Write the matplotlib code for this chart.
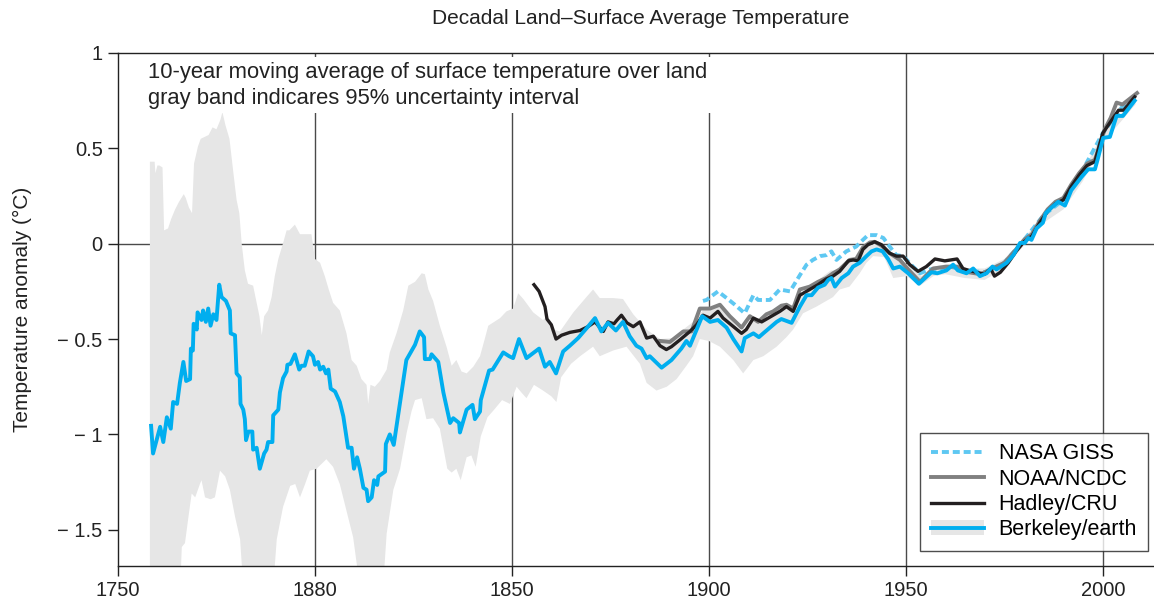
import numpy as np
import matplotlib
matplotlib.use("Agg")
import matplotlib.pyplot as plt
from matplotlib.patches import Patch
from matplotlib.lines import Line2D

plt.rcParams['font.family'] = ['Liberation Sans', 'DejaVu Sans']

# Berkeley Earth 10-year moving average
berk_years = [1758.4, 1758.9, 1760.7, 1761.5, 1762.4, 1763.4, 1764.0, 1765.0, 1765.7, 1766.6,
              1767.3, 1768.3, 1768.5, 1769.0, 1769.2, 1770.0, 1770.2, 1771.2, 1771.6, 1772.3,
              1772.9, 1773.5, 1774.2, 1775.0, 1775.7, 1776.3, 1777.4, 1778.4, 1778.6, 1779.7,
              1780.1, 1780.9, 1781.1, 1781.8, 1782.2, 1782.5, 1783.1, 1784.1, 1784.3, 1785.2,
              1786.0, 1787.1, 1787.7, 1788.1, 1789.2, 1789.4, 1790.7, 1791.1, 1791.9, 1792.8,
              1793.0, 1793.8, 1794.9, 1796.0, 1796.6, 1797.4, 1798.4, 1799.5, 1800.0, 1800.8,
              1801.3, 1802.1, 1802.8, 1803.4, 1804.0, 1805.1, 1806.3, 1807.2, 1808.4, 1809.3,
              1809.9, 1810.7, 1811.4, 1812.3, 1813.1, 1813.5, 1814.4, 1815.0, 1815.8, 1816.1,
              1817.8, 1818.0, 1819.0, 1820.0, 1823.2, 1825.4, 1826.6, 1827.7, 1827.9, 1829.2,
              1829.6, 1831.3, 1832.6, 1834.3, 1835.1, 1836.6, 1836.8, 1838.5, 1840.0, 1840.6,
              1841.9, 1842.1, 1844.2, 1845.1, 1847.8, 1849.3, 1850.3, 1851.8, 1853.7, 1856.9,
              1858.4, 1859.6, 1861.2, 1863.0, 1864.7, 1866.8, 1869.3, 1871.1, 1872.7, 1874.4,
              1876.4, 1878.2, 1879.9, 1881.6, 1882.9, 1884.2, 1885.0, 1888.0, 1890.5, 1893.0,
              1894.3, 1895.2, 1896.9, 1898.3, 1900.3, 1902.3, 1904.5, 1906.2, 1908.3, 1909.1,
              1911.3, 1912.7, 1913.8, 1917.2, 1918.4, 1921.0, 1923.1, 1924.8, 1926.1, 1927.7,
              1929.4, 1930.3, 1931.1, 1932.0, 1933.7, 1935.4, 1936.6, 1938.3, 1940.0, 1941.3,
              1942.6, 1944.1, 1945.5, 1946.8, 1948.5, 1950.6, 1953.3, 1956.5, 1958.0, 1960.3,
              1962.0, 1963.2, 1965.4, 1967.1, 1968.8, 1970.5, 1972.0, 1973.0, 1975.6, 1977.3,
              1979.0, 1980.2, 1981.1, 1981.9, 1983.2, 1984.8, 1985.5, 1987.0, 1988.7, 1990.4,
              1992.0, 1994.6, 1996.3, 1998.0, 1998.8, 2000.1, 2001.8, 2003.5, 2005.1, 2008.1]
berk_vals = [-0.955, -1.10, -0.96, -1.04, -0.91, -0.97, -0.83, -0.84, -0.73, -0.62,
             -0.72, -0.71, -0.55, -0.56, -0.42, -0.45, -0.36, -0.40, -0.35, -0.41,
             -0.34, -0.43, -0.37, -0.40, -0.215, -0.28, -0.30, -0.35, -0.47, -0.48,
             -0.68, -0.70, -0.84, -0.87, -0.92, -1.03, -0.985, -0.985, -1.08, -1.07,
             -1.18, -1.10, -1.08, -1.04, -1.04, -0.90, -0.87, -0.78, -0.705, -0.67,
             -0.635, -0.63, -0.58, -0.66, -0.64, -0.64, -0.565, -0.59, -0.635, -0.62,
             -0.66, -0.645, -0.68, -0.66, -0.76, -0.775, -0.83, -0.905, -1.07, -1.07,
             -1.18, -1.12, -1.18, -1.28, -1.29, -1.35, -1.33, -1.24, -1.265, -1.22,
             -1.195, -1.05, -1.00, -1.055, -0.61, -0.53, -0.46, -0.49, -0.605, -0.605,
             -0.58, -0.62, -0.78, -0.94, -0.915, -0.94, -0.99, -0.87, -0.845, -0.92,
             -0.88, -0.82, -0.665, -0.66, -0.57, -0.59, -0.60, -0.50, -0.60, -0.55,
             -0.645, -0.62, -0.68, -0.565, -0.535, -0.495, -0.435, -0.39, -0.46, -0.415,
             -0.455, -0.41, -0.485, -0.535, -0.55, -0.60, -0.59, -0.65, -0.61, -0.55,
             -0.51, -0.535, -0.45, -0.38, -0.41, -0.40, -0.44, -0.50, -0.565, -0.495,
             -0.47, -0.49, -0.47, -0.41, -0.395, -0.415, -0.33, -0.27, -0.27, -0.23,
             -0.215, -0.19, -0.18, -0.225, -0.18, -0.155, -0.12, -0.10, -0.065, -0.04,
             -0.03, -0.04, -0.08, -0.13, -0.12, -0.155, -0.21, -0.15, -0.155, -0.14,
             -0.11, -0.14, -0.155, -0.13, -0.17, -0.155, -0.12, -0.135, -0.10, -0.06,
             0.004, 0.004, 0.03, 0.02, 0.08, 0.11, 0.16, 0.19, 0.22, 0.20,
             0.28, 0.35, 0.39, 0.39, 0.45, 0.555, 0.56, 0.67, 0.67, 0.75]

# 95% uncertainty band, upper edge
band_hi_years = [1758.1, 1759.3, 1759.5, 1760.0, 1760.5, 1761.3, 1761.7, 1762.7, 1763.5, 1764.5,
                 1765.5, 1766.7, 1767.2, 1768.0, 1768.8, 1769.3, 1770.3, 1771.0, 1772.0, 1773.0,
                 1774.0, 1775.0, 1776.0, 1776.5, 1777.3, 1778.3, 1779.3, 1780.1, 1780.8, 1781.4,
                 1782.2, 1783.0, 1784.3, 1785.0, 1785.9, 1786.5, 1787.1, 1788.1, 1789.0, 1789.8,
                 1790.7, 1792.0, 1792.8, 1793.5, 1794.9, 1796.2, 1799.1, 1800.0, 1801.3, 1802.5,
                 1803.5, 1804.6, 1806.3, 1808.0, 1809.3, 1810.6, 1811.8, 1813.1, 1813.5, 1814.1,
                 1815.2, 1816.5, 1818.2, 1819.0, 1820.7, 1822.4, 1823.7, 1825.4, 1827.1, 1827.9,
                 1828.8, 1830.0, 1831.7, 1833.4, 1834.7, 1835.9, 1837.2, 1838.5, 1840.2, 1841.9,
                 1843.1, 1844.0, 1847.0, 1848.6, 1850.3, 1851.6, 1852.9, 1855.4, 1857.9, 1859.0,
                 1860.5, 1862.2, 1865.6, 1868.9, 1870.6, 1872.3, 1875.7, 1878.2, 1880.8, 1884.2,
                 1887.6, 1891.0, 1893.5, 1896.0, 1898.5, 1900.3, 1902.5, 1905.0, 1908.3, 1911.0,
                 1913.5, 1917.0, 1920.0, 1921.5, 1923.0, 1926.0, 1929.0, 1931.0, 1933.0, 1936.0,
                 1938.0, 1940.0, 1942.0, 1944.0, 1946.0, 1948.5, 1951.0, 1954.0, 1957.0, 1960.0,
                 1965.0, 1970.0, 1975.0, 1980.0, 1985.0, 1990.0, 1995.0, 2000.0, 2005.0, 2008.3]
band_hi = [0.43, 0.43, 0.37, 0.41, 0.41, 0.40, 0.07, 0.08, 0.13, 0.18,
           0.22, 0.26, 0.24, 0.19, 0.16, 0.42, 0.51, 0.55, 0.56, 0.57,
           0.61, 0.60, 0.65, 0.69, 0.62, 0.55, 0.37, 0.23, 0.16, 0.0,
           -0.14, -0.21, -0.22, -0.29, -0.38, -0.48, -0.38, -0.35, -0.28, -0.17,
           -0.08, 0.01, 0.07, 0.07, 0.10, 0.05, 0.05, -0.08, -0.10, -0.17,
           -0.24, -0.31, -0.35, -0.47, -0.61, -0.64, -0.71, -0.74, -0.84, -0.74,
           -0.75, -0.72, -0.66, -0.57, -0.47, -0.35, -0.22, -0.20, -0.155, -0.16,
           -0.24, -0.30, -0.43, -0.54, -0.64, -0.61, -0.67, -0.68, -0.645, -0.59,
           -0.50, -0.43, -0.39, -0.355, -0.34, -0.26, -0.29, -0.36, -0.40, -0.38,
           -0.45, -0.46, -0.36, -0.28, -0.24, -0.285, -0.285, -0.29, -0.37, -0.45,
           -0.50, -0.495, -0.45, -0.41, -0.35, -0.34, -0.33, -0.38, -0.47, -0.40,
           -0.40, -0.35, -0.33, -0.35, -0.27, -0.22, -0.17, -0.14, -0.14, -0.08,
           -0.06, -0.02, 0.0, -0.01, -0.06, -0.08, -0.12, -0.17, -0.12, -0.11,
           -0.13, -0.13, -0.08, 0.03, 0.15, 0.23, 0.38, 0.58, 0.69, 0.77]

# 95% uncertainty band, lower edge
band_lo_years = [1758.1, 1765.8, 1766.2, 1767.0, 1767.9, 1768.7, 1769.6, 1770.8, 1771.2, 1772.1,
                 1773.5, 1774.6, 1775.9, 1777.2, 1778.4, 1779.7, 1781.0, 1781.8, 1789.4, 1790.3,
                 1791.9, 1793.7, 1795.0, 1796.2, 1797.5, 1798.7, 1800.4, 1802.9, 1804.6, 1806.3,
                 1808.0, 1809.7, 1811.4, 1817.3, 1818.2, 1819.9, 1821.6, 1823.3, 1824.5, 1825.4,
                 1827.1, 1828.3, 1830.0, 1831.7, 1833.6, 1834.7, 1835.9, 1837.0, 1838.5, 1839.7,
                 1840.8, 1842.1, 1843.8, 1845.5, 1847.5, 1849.5, 1851.2, 1852.4, 1853.7, 1855.6,
                 1857.9, 1860.0, 1861.3, 1862.5, 1865.0, 1867.3, 1870.6, 1872.3, 1875.7, 1879.1,
                 1882.5, 1884.2, 1886.7, 1889.3, 1891.8, 1894.3, 1896.0, 1897.7, 1900.0, 1902.8,
                 1906.2, 1908.7, 1911.3, 1913.8, 1917.2, 1919.7, 1921.4, 1923.9, 1927.3, 1931.5,
                 1933.2, 1935.7, 1938.3, 1940.0, 1941.7, 1944.5, 1946.8, 1950.2, 1953.6, 1957.0,
                 1960.0, 1965.0, 1970.0, 1975.0, 1980.0, 1985.0, 1990.0, 1995.0, 2000.0, 2005.0,
                 2008.3]
band_lo = [-1.8, -1.8, -1.59, -1.57, -1.43, -1.31, -1.33, -1.26, -1.24, -1.33,
           -1.34, -1.33, -1.19, -1.22, -1.29, -1.43, -1.55, -1.8, -1.8, -1.55,
           -1.38, -1.27, -1.26, -1.33, -1.26, -1.19, -1.18, -1.13, -1.17, -1.26,
           -1.40, -1.54, -1.8, -1.8, -1.52, -1.29, -1.18, -0.99, -0.88, -0.82,
           -0.81, -0.92, -0.915, -0.97, -1.18, -1.20, -1.18, -1.24, -1.12, -1.11,
           -1.17, -1.01, -0.91, -0.87, -0.82, -0.84, -0.75, -0.78, -0.81, -0.74,
           -0.77, -0.80, -0.83, -0.70, -0.63, -0.59, -0.54, -0.59, -0.56, -0.54,
           -0.63, -0.73, -0.77, -0.75, -0.71, -0.64, -0.59, -0.50, -0.51, -0.54,
           -0.61, -0.68, -0.61, -0.59, -0.54, -0.49, -0.45, -0.365, -0.33, -0.28,
           -0.24, -0.225, -0.155, -0.10, -0.065, -0.07, -0.18, -0.17, -0.22, -0.17,
           -0.16, -0.18, -0.19, -0.13, -0.01, 0.11, 0.18, 0.33, 0.53, 0.65,
           0.73]

# Hadley/CRU
had_years = [1855.6, 1856.9, 1858.4, 1858.9, 1860.0, 1861.2, 1862.6, 1864.7, 1867.3, 1869.3,
             1871.1, 1873.2, 1874.4, 1875.9, 1876.7, 1877.8, 1879.2, 1880.8, 1882.5, 1884.2,
             1885.9, 1887.6, 1889.2, 1890.5, 1892.6, 1895.2, 1896.9, 1898.5, 1900.3, 1902.3,
             1903.6, 1908.3, 1909.5, 1911.3, 1913.4, 1915.9, 1918.0, 1919.7, 1921.4, 1923.1,
             1925.6, 1927.7, 1929.8, 1931.5, 1933.2, 1935.4, 1936.6, 1937.9, 1939.1, 1940.4,
             1942.1, 1943.8, 1945.9, 1947.6, 1949.3, 1951.0, 1953.1, 1955.2, 1957.4, 1959.9,
             1963.0, 1964.5, 1966.0, 1968.0, 1970.0, 1971.5, 1972.5, 1974.0, 1976.0, 1978.0,
             1980.0, 1982.0, 1984.0, 1986.0, 1988.0, 1990.0, 1992.0, 1994.0, 1996.0, 1998.0,
             2000.0, 2002.0, 2004.0, 2005.3, 2008.1]
had_vals = [-0.215, -0.25, -0.33, -0.395, -0.425, -0.50, -0.48, -0.465, -0.455, -0.435,
            -0.41, -0.46, -0.41, -0.42, -0.40, -0.375, -0.415, -0.435, -0.41, -0.495,
            -0.485, -0.535, -0.555, -0.54, -0.505, -0.46, -0.425, -0.375, -0.39, -0.355,
            -0.39, -0.47, -0.45, -0.39, -0.41, -0.38, -0.355, -0.33, -0.355, -0.27,
            -0.24, -0.215, -0.185, -0.17, -0.145, -0.09, -0.085, -0.09, -0.03, -0.005,
            0.01, -0.005, -0.05, -0.065, -0.065, -0.11, -0.145, -0.12, -0.08, -0.09,
            -0.08, -0.13, -0.14, -0.15, -0.16, -0.13, -0.17, -0.15, -0.10, -0.04,
            0.01, 0.04, 0.11, 0.17, 0.21, 0.23, 0.30, 0.36, 0.41, 0.43,
            0.58, 0.64, 0.70, 0.70, 0.77]

# NOAA/NCDC
noaa_years = [1887.6, 1890.1, 1893.5, 1895.6, 1897.7, 1900.3, 1902.8, 1905.3, 1908.3, 1910.4,
              1912.5, 1914.6, 1916.3, 1918.4, 1919.7, 1921.4, 1923.1, 1925.6, 1927.7, 1929.8,
              1931.5, 1933.2, 1935.7, 1937.4, 1939.1, 1940.9, 1942.1, 1943.8, 1945.9, 1948.5,
              1950.6, 1953.6, 1956.9, 1960.3, 1963.0, 1966.0, 1969.0, 1972.0, 1975.0, 1978.0,
              1980.0, 1982.0, 1984.0, 1986.0, 1988.0, 1990.0, 1992.0, 1994.0, 1996.0, 1998.0,
              2000.5, 2002.0, 2003.5, 2005.0, 2008.7]
noaa_vals = [-0.51, -0.515, -0.46, -0.46, -0.34, -0.34, -0.32, -0.38, -0.44, -0.38,
             -0.41, -0.37, -0.355, -0.325, -0.32, -0.34, -0.24, -0.225, -0.20, -0.18,
             -0.155, -0.135, -0.085, -0.08, -0.02, 0.007, 0.01, -0.01, -0.05, -0.085,
             -0.135, -0.20, -0.13, -0.12, -0.12, -0.15, -0.16, -0.13, -0.10, -0.03,
             0.02, 0.05, 0.12, 0.18, 0.22, 0.24, 0.31, 0.37, 0.42, 0.44,
             0.60, 0.66, 0.74, 0.73, 0.79]

# NASA GISS
giss_years = [1898.5, 1899.4, 1902.3, 1904.5, 1906.6, 1909.1, 1911.3, 1912.5, 1915.5, 1918.0,
              1920.6, 1923.1, 1924.8, 1926.4, 1928.2, 1929.8, 1931.1, 1932.4, 1934.9, 1937.4,
              1939.1, 1940.4, 1942.6, 1944.3, 1945.9, 1947.6, 1949.3, 1951.8, 1953.6, 1956.1,
              1958.6, 1961.2, 1965.0, 1970.0, 1975.0, 1980.0, 1985.0, 1990.0, 1995.0, 2000.0,
              2005.0, 2008.0]
giss_vals = [-0.30, -0.295, -0.25, -0.285, -0.32, -0.365, -0.27, -0.295, -0.295, -0.24,
             -0.25, -0.165, -0.11, -0.085, -0.065, -0.06, -0.04, -0.085, -0.04, -0.015,
             0.02, 0.045, 0.045, 0.03, -0.015, -0.06, -0.065, -0.12, -0.155, -0.135,
             -0.13, -0.12, -0.14, -0.15, -0.10, 0.02, 0.15, 0.23, 0.39, 0.58,
             0.72, 0.77]

xtick_pos = [1750, 1800, 1850, 1900, 1950, 2000]
xtick_labels = ['1750', '1880', '1850', '1900', '1950', '2000']
ytick_pos = [1, 0.5, 0, -0.5, -1, -1.5]
ytick_labels = ['1', '0.5', '0', '\u2212 0.5', '\u2212 1', '\u2212 1.5']

c_band = '#e6e6e6'
c_berk = '#00aeef'
c_giss = '#5ec8f2'
c_noaa = '#808080'
c_had = '#231f20'
c_grid = '#4a4a4a'
c_text = '#222222'
giss_dash = (0, (1.8, 1.0))

fig = plt.figure(figsize=(11.54, 6.01), dpi=100)
ax = fig.add_axes([118 / 1154, 35 / 601, 1 - 118 / 1154, 513 / 601])

for x in xtick_pos[1:]:
    ax.axvline(x, color=c_grid, lw=1.0, zorder=0.5)
ax.axhline(0, color=c_grid, lw=1.0, zorder=0.5)

ax.fill(np.concatenate([band_hi_years, band_lo_years[::-1]]),
        np.concatenate([band_hi, band_lo[::-1]]),
        color=c_band, lw=0, zorder=1)

ax.plot(giss_years, giss_vals, color=c_giss, lw=2.8, ls=giss_dash, zorder=2)
ax.plot(noaa_years, noaa_vals, color=c_noaa, lw=2.8, zorder=3)
ax.plot(had_years, had_vals, color=c_had, lw=2.4, zorder=4)
ax.plot(berk_years, berk_vals, color=c_berk, lw=2.8, zorder=5)

ax.set_xlim(1750, 2013)
ax.set_ylim(-1.69, 1.0)
ax.set_xticks(xtick_pos)
ax.set_xticklabels(xtick_labels)
ax.set_yticks(ytick_pos)
ax.set_yticklabels(ytick_labels)
ax.tick_params(direction='out', length=7, width=1, labelsize=14.5, color=c_text,
               labelcolor=c_text, pad=4)
ax.spines['right'].set_visible(False)
for s in ['left', 'bottom', 'top']:
    ax.spines[s].set_linewidth(1.0)
    ax.spines[s].set_color(c_text)

ax.set_ylabel('Temperature anomaly (\u00b0C)', fontsize=15, color=c_text)
ax.yaxis.set_label_coords(-0.083, 0.5)
fig.text(641 / 1154, 1 - 18 / 601, 'Decadal Land\u2013Surface Average Temperature',
         ha='center', va='center', fontsize=15, color=c_text)

ax.text(1757.5, 0.955, '10-year moving average of surface temperature over land\n'
        'gray band indicares 95% uncertainty interval', ha='left', va='top',
        fontsize=15.8, color=c_text, linespacing=1.32, zorder=6,
        bbox=dict(facecolor='white', edgecolor='none', pad=3))

handles = [Line2D([], [], color=c_giss, lw=2.8, ls=giss_dash),
           Line2D([], [], color=c_noaa, lw=2.8),
           Line2D([], [], color=c_had, lw=2.4),
           (Patch(facecolor=c_band, edgecolor='none'), Line2D([], [], color=c_berk, lw=2.8))]
labels = ['NASA GISS', 'NOAA/NCDC', 'Hadley/CRU', 'Berkeley/earth']
leg = ax.legend(handles, labels, loc='lower right', bbox_to_anchor=(0.994, 0.029),
                borderaxespad=0, fontsize=15.5, frameon=True, fancybox=False,
                handlelength=2.45, handletextpad=0.7, labelspacing=0.2,
                borderpad=0.5)
leg.get_frame().set_edgecolor(c_text)
leg.get_frame().set_linewidth(1.0)
leg.set_zorder(10)

fig.savefig('out.png', dpi=100)
